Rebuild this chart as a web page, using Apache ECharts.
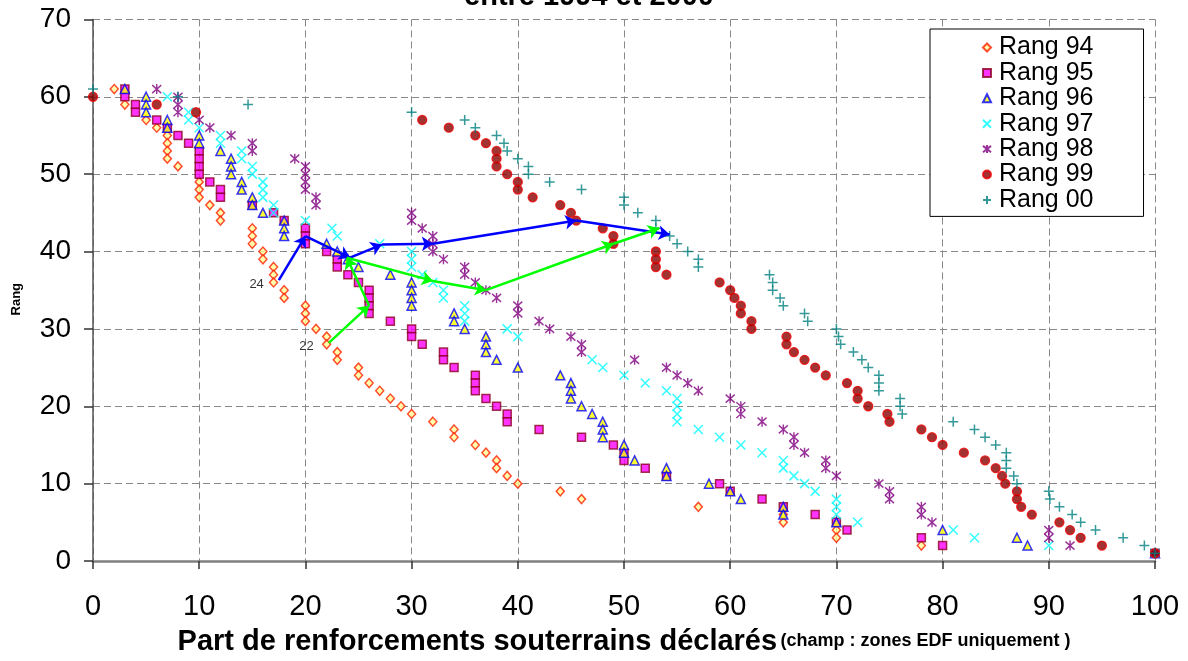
<!DOCTYPE html>
<html><head><meta charset="utf-8">
<script src="https://cdn.jsdelivr.net/npm/echarts@6/dist/echarts.min.js"></script>
<style>html,body{margin:0;padding:0;background:#fff}#c{width:1188px;height:661px}</style>
</head><body><div id="c"></div>
<script>
const FONT = "'Liberation Sans', Arial, sans-serif";
const titleText = 'entre 1994 et 2000';
const xAxisTitle = 'Part de renforcements souterrains déclarés';
const xAxisNote = '(champ : zones EDF uniquement )';
const yAxisTitle = 'Rang';
const xTicks = [0, 10, 20, 30, 40, 50, 60, 70, 80, 90, 100];
const yTicks = [0, 10, 20, 30, 40, 50, 60, 70];
const seriesNames = ['Rang 94', 'Rang 95', 'Rang 96', 'Rang 97', 'Rang 98', 'Rang 99', 'Rang 00'];

// [part (%), rang]
const rang94 = [[2,61],[3,59],[5,57],[6,56],[7,55],[7,54],[7,53],[7,52],[8,51],[10,49],[10,48],[10,47],[11,46],[12,45],[12,44],[15,43],[15,42],[15,41],[16,40],[16,39],[17,38],[17,37],[17,36],[18,35],[18,34],[20,33],[20,32],[20,31],[21,30],[22,29],[22,28],[23,27],[23,26],[25,25],[25,24],[26,23],[27,22],[28,21],[29,20],[30,19],[32,18],[34,17],[34,16],[36,15],[37,14],[38,13],[38,12],[39,11],[40,10],[44,9],[46,8],[57,7],[65,6],[65,5],[70,4],[70,3],[78,2],[100,1]];
const rang95 = [[3,61],[3,60],[4,59],[4,58],[6,57],[7,56],[8,55],[9,54],[10,53],[10,52],[10,51],[10,50],[11,49],[12,48],[12,47],[15,46],[17,45],[18,44],[20,43],[20,42],[20,41],[22,40],[23,39],[23,38],[24,37],[25,36],[26,35],[26,34],[26,33],[26,32],[28,31],[30,30],[30,29],[31,28],[33,27],[33,26],[34,25],[36,24],[36,23],[36,22],[37,21],[38,20],[39,19],[39,18],[42,17],[46,16],[49,15],[50,14],[50,13],[52,12],[54,11],[59,10],[60,9],[63,8],[65,7],[68,6],[70,5],[71,4],[78,3],[80,2],[100,1]];
const rang96 = [[3,61],[5,60],[5,59],[5,58],[7,57],[7,56],[10,55],[10,54],[12,53],[13,52],[13,51],[13,50],[14,49],[14,48],[15,47],[15,46],[16,45],[18,44],[18,43],[18,42],[22,41],[23,40],[24,39],[25,38],[28,37],[30,36],[30,35],[30,34],[30,33],[34,32],[34,31],[35,30],[37,29],[37,28],[37,27],[38,26],[40,25],[44,24],[45,23],[45,22],[45,21],[46,20],[47,19],[48,18],[48,17],[48,16],[50,15],[50,14],[51,13],[54,12],[54,11],[58,10],[60,9],[61,8],[65,7],[65,6],[70,5],[80,4],[87,3],[88,2],[100,1]];
const rang97 = [[7,60],[9,58],[9,57],[10,56],[12,55],[12,54],[14,53],[14,52],[15,51],[15,50],[16,49],[16,48],[16,47],[17,46],[17,45],[20,44],[22.5,43],[23,42],[27,41],[30,40],[30,39],[30,38],[31,37],[32,36],[33,35],[33,34],[35,33],[35,32],[35,31],[39,30],[40,29],[47,26],[48,25],[50,24],[52,23],[54,22],[55,21],[55,20],[55,19],[55,18],[57,17],[59,16],[61,15],[63,14],[65,13],[65,12],[66,11],[67,10],[68,9],[70,8],[70,7],[70,6],[72,5],[81,4],[83,3],[90,2],[100,1]];
const rang98 = [[6,61],[8,60],[8,59],[8,58],[10,57],[11,56],[13,55],[15,54],[15,53],[19,52],[20,51],[20,50],[20,49],[20,48],[21,47],[21,46],[30,45],[30,44],[31,43],[32,42],[32,41],[32,40],[33,39],[35,38],[35,37],[36,36],[37,35],[38,34],[40,33],[40,32],[42,31],[43,30],[45,29],[46,28],[46,27],[51,26],[54,25],[55,24],[56,23],[57,22],[60,21],[61,20],[61,19],[63,18],[65,17],[66,16],[66,15],[67,14],[69,13],[69,12],[70,11],[74,10],[75,9],[75,8],[78,7],[78,6],[79,5],[90,4],[90,3],[92,2],[100,1]];
const rang99 = [[0,60],[6,59],[9.7,58],[31,57],[33.5,56],[36,55],[37,54],[38,53],[38,52],[38,51],[39,50],[40,49],[40,48],[41.4,47],[44,46],[45,45],[45.5,44],[48,43],[49,42],[49,41],[53,40],[53,39],[53,38],[54,37],[59,36],[60,35],[60.4,34],[61,33],[61,32],[62,31],[62,30],[65.3,29],[65.3,28],[66,27],[67,26],[68,25],[69,24],[71,23],[72,22],[72,21],[73,20],[74.8,19],[75,18],[78,17],[79,16],[80,15],[82,14],[84,13],[85,12],[85.6,11],[85.9,10],[87,9],[87,8],[87.4,7],[88.4,6],[91,5],[92,4],[93,3],[95,2],[100,1]];
const rang00 = [[0,61],[8,60],[14.6,59],[30,58],[35,57],[36,56],[38,55],[38.7,54],[39,53],[40,52],[41,51],[41,50],[43,49],[46,48],[50,47],[50,46],[51.3,45],[53,44],[53,43],[54.3,42],[55,41],[56,40],[57,39],[57,38],[63.7,37],[64,36],[64,35],[64.7,34],[65,33],[67,32],[67.3,31],[70,30],[70.2,29],[70.4,28],[71.6,27],[72.4,26],[73,25],[74,24],[74,23],[74,22],[76,21],[76,20],[76.2,19],[81,18],[83,17],[84,16],[85,15],[86,14],[86,13],[86,12],[86.7,11],[87,10],[90,9],[90.1,8],[91,7],[92.2,6],[93,5],[94.4,4],[97,3],[99,2],[100,1]];

// trajectories of two zones, 1994 -> 2000
const traj24Label = '24';
const traj24 = [[17.5,36.3],[20,42],[24.2,39.2],[27.2,40.9],[32,41],[45.5,44],[54.3,42.2]];
const traj22Label = '22';
const traj22 = [[22.2,28.2],[26,33],[23.9,39.2],[32,36.2],[37,35],[49,41],[53.3,43]];

const seriesData = [rang94, rang95, rang96, rang97, rang98, rang99, rang00];
const styles = [
  {symbol:'diamond', symbolSize:[8,9], itemStyle:{color:'#FFFF99', borderColor:'#FF2000', borderWidth:1.5}},
  {symbol:'rect', symbolSize:8, itemStyle:{color:'#FF00FF', borderColor:'#8B0020', borderWidth:1.5}},
  {symbol:'triangle', symbolSize:[9,9], itemStyle:{color:'#FFFF00', borderColor:'#0000FF', borderWidth:1.5}},
  {symbol:'path://M0,0L10,10M10,0L0,10', symbolSize:9, itemStyle:{color:'rgba(0,0,0,0)', borderColor:'#00FFFF', borderWidth:1.5}},
  {symbol:'path://M0,1L10,9M10,1L0,9M5,0L5,10', symbolSize:[9,10], itemStyle:{color:'rgba(0,0,0,0)', borderColor:'#800080', borderWidth:1.5}},
  {symbol:'circle', symbolSize:9, itemStyle:{color:'#8B0000', borderColor:'#F00000', borderWidth:1.3}},
  {symbol:'path://M5,0L5,10M0,5L10,5', symbolSize:10, itemStyle:{color:'rgba(0,0,0,0)', borderColor:'#008080', borderWidth:1.5}}
];

function segs(traj){
  const out = [];
  for (let i = 0; i < traj.length - 1; i++) out.push({coords:[traj[i], traj[i+1]]});
  return out;
}

const series = seriesNames.map((n, i) => Object.assign({
  name: n, type: 'scatter', data: seriesData[i], z: 2 + i * 0.01,
  emphasis: {disabled: true}, animation: false
}, styles[i]));

series.push({
  type: 'lines', coordinateSystem: 'cartesian2d', data: segs(traj24),
  symbol: ['none', 'arrow'], symbolSize: 11,
  lineStyle: {color: '#0000FF', width: 2.5, opacity: 1}, z: 5, animation: false, silent: true
});
series.push({
  type: 'lines', coordinateSystem: 'cartesian2d', data: segs(traj22),
  symbol: ['none', 'arrow'], symbolSize: 11,
  lineStyle: {color: '#00FF00', width: 2.5, opacity: 1}, z: 5, animation: false, silent: true
});
series.push({
  type: 'scatter', symbolSize: 0, silent: true, animation: false,
  data: [[traj24[0][0], traj24[0][1], traj24Label], [traj22[0][0], traj22[0][1], traj22Label]],
  label: {show: true, position: 'left', distance: 15, offset: [0, 4], formatter: p => p.value[2],
    color: '#000', fontSize: 13, fontFamily: FONT}
});

const chart = echarts.init(document.getElementById('c'), null, {renderer: 'canvas'});
chart.setOption({
  backgroundColor: '#fff',
  animation: false,
  textStyle: {fontFamily: FONT},
  graphic: [{type: 'text', style: {text: titleText, x: 589, y: 11, align: 'center', verticalAlign: 'bottom',
    fontSize: 29, fontWeight: 'bold', fontFamily: FONT, fill: '#000'}}],
  grid: {left: 93, right: 33, top: 19.4, bottom: 98.4, containLabel: false},
  legend: {
    data: seriesNames, orient: 'vertical', left: 930, top: 29,
    padding: [6, 50, 4, 52], itemWidth: 8, itemHeight: 8, itemGap: 0.4,
    borderColor: '#000', borderWidth: 1, backgroundColor: '#fff',
    textStyle: {fontSize: 25, lineHeight: 25, color: '#000', fontFamily: FONT, padding: [0, 0, 0, 3]},
    selectedMode: false
  },
  xAxis: {
    type: 'value', min: xTicks[0], max: xTicks[xTicks.length - 1], interval: 10,
    name: '{a|' + xAxisTitle + '} {b|' + xAxisNote + '}',
    nameLocation: 'middle', nameGap: 66,
    nameTextStyle: {color: '#000', rich: {
      a: {fontSize: 29, fontWeight: 'bold', fontFamily: FONT, color: '#000'},
      b: {fontSize: 18, fontWeight: 'bold', fontFamily: FONT, color: '#000'}}},
    axisLine: {show: true, lineStyle: {color: '#808080', width: 2.5}},
    axisTick: {show: true, inside: false, length: 8, lineStyle: {color: '#333', width: 1.5}},
    axisLabel: {fontSize: 29, color: '#000', margin: 31, fontFamily: FONT, hideOverlap: false},
    splitLine: {show: true, lineStyle: {color: '#888', type: [7, 4], width: 1}}
  },
  yAxis: {
    type: 'value', min: yTicks[0], max: yTicks[yTicks.length - 1], interval: 10,
    name: yAxisTitle, nameLocation: 'middle', nameGap: 70, nameRotate: 90,
    nameTextStyle: {fontSize: 13, fontWeight: 'bold', color: '#000', fontFamily: FONT, padding: [0, 18, 0, 0]},
    axisLine: {show: true, lineStyle: {color: '#555', width: 1.5}},
    axisTick: {show: true, inside: false, length: 9, lineStyle: {color: '#333', width: 1.5}},
    axisLabel: {fontSize: 28, color: '#000', margin: 22, fontFamily: FONT, hideOverlap: false},
    splitLine: {show: true, lineStyle: {color: '#888', type: [7, 4], width: 1}}
  },
  series: series
});
</script>
</body></html>
